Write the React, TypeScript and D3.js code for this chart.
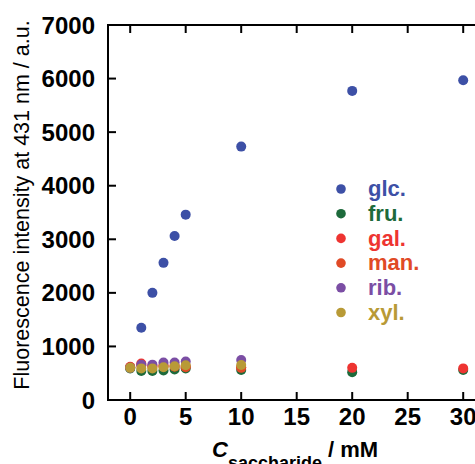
import React from "react";
import * as d3 from "d3";

const xValues = [0, 1, 2, 3, 4, 5, 10, 20, 30];
const seriesNames = ["glc.", "fru.", "gal.", "man.", "rib.", "xyl."];
const seriesColors = ["#3d50a6", "#1d6a3b", "#ee3431", "#e04a26", "#7b4ea4", "#b89a36"];
const glc = [600, 1350, 2000, 2560, 3060, 3460, 4730, 5770, 5970];
const fru = [590, 540, 540, 550, 570, 590, 560, 520, 560];
const gal = [620, 680, 640, 650, 640, 630, 610, 600, 590];
const man = [610, 650, 620, 630, 620, 610, 600, null, null];
const rib = [600, 660, 660, 700, 700, 720, 745, null, null];
const xyl = [600, 590, 590, 610, 630, 650, 655, null, null];
const seriesValues = [glc, fru, gal, man, rib, xyl];
const xTicks = [0, 5, 10, 15, 20, 25, 30];
const yTicks = [0, 1000, 2000, 3000, 4000, 5000, 6000, 7000];

export default function App() {
  const W = 475, H = 464;
  const x = d3.scaleLinear().domain([-2, 32]).range([108, 108 + 34 * 11.1]);
  const y = d3.scaleLinear().domain([0, 7000]).range([400, 25]);
  const font = "'Liberation Sans', Arial, sans-serif";
  const tick = 8;
  const [x0, x1] = x.range();
  const [y0, y1] = y.range();
  return (
    <svg width={W} height={H} style={{ position: "absolute", left: 0, top: 0 }} fontFamily={font}>
      <rect x={0} y={0} width={W} height={H} fill="#fff" />
      <rect x={x0} y={y1} width={x1 - x0} height={y0 - y1} fill="none" stroke="#000" strokeWidth={2} />
      {xTicks.map((t) => (
        <g key={"xt" + t}>
          <line x1={x(t)} x2={x(t)} y1={y0} y2={y0 - tick} stroke="#000" strokeWidth={2} />
          <line x1={x(t)} x2={x(t)} y1={y1} y2={y1 + tick} stroke="#000" strokeWidth={2} />
          <text x={x(t)} y={425} textAnchor="middle" fontSize={24} fontWeight="bold">{t}</text>
        </g>
      ))}
      {yTicks.map((t) => (
        <g key={"yt" + t}>
          <line x1={x0} x2={x0 + tick} y1={y(t)} y2={y(t)} stroke="#000" strokeWidth={2} />
          <text x={95} y={y(t)} dy="0.36em" textAnchor="end" fontSize={24} fontWeight="bold">{t}</text>
        </g>
      ))}
      <text transform={`translate(29,${205}) rotate(-90)`} textAnchor="middle" fontSize={21.5}>
        Fluorescence intensity at 431 nm / a.u.
      </text>
      <text x={212} y={457} fontSize={22} fontWeight="bold">
        <tspan fontStyle="italic">C</tspan>
        <tspan fontSize={18} dy={12}>saccharide</tspan>
        <tspan dy={-12}> / mM</tspan>
      </text>
      {seriesValues.map((vals, si) => (
        <g key={"s" + si} fill={seriesColors[si]}>
          {vals.map((v, i) =>
            v == null ? null : <circle key={i} cx={x(xValues[i])} cy={y(v)} r={5} />
          )}
        </g>
      ))}
      {seriesNames.map((n, i) => (
        <g key={"lg" + n} transform={`translate(0,${189 + i * 24.7})`}>
          <circle cx={341} cy={0} r={4.8} fill={seriesColors[i]} />
          <text x={368} y={0} dy="0.33em" fontSize={22} fontWeight="bold" fill={seriesColors[i]}>{n}</text>
        </g>
      ))}
    </svg>
  );
}
